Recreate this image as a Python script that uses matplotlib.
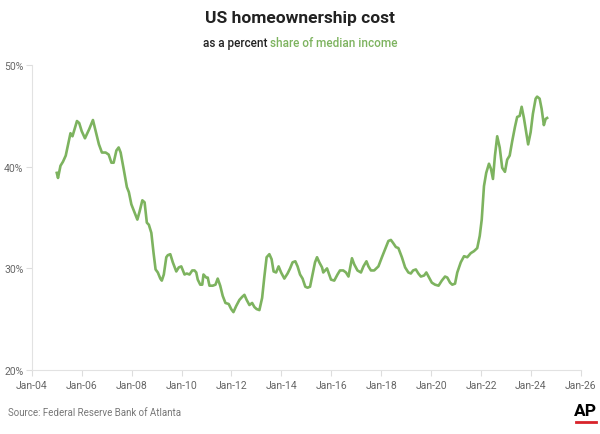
import matplotlib.pyplot as plt
import numpy as np

# decimal year and share of median income, %
years = [
    2005.00, 2005.05, 2005.15, 2005.25, 2005.36, 2005.55, 2005.63, 2005.81, 2005.90,
    2006.00, 2006.13, 2006.30, 2006.45, 2006.59, 2006.69, 2006.81, 2006.96,
    2007.08, 2007.19, 2007.28, 2007.39, 2007.48, 2007.56, 2007.68, 2007.81, 2007.89, 2007.99,
    2008.12, 2008.23, 2008.32, 2008.43, 2008.52, 2008.61, 2008.69, 2008.79, 2008.88, 2008.96,
    2009.05, 2009.15, 2009.21, 2009.29, 2009.39, 2009.45, 2009.55, 2009.65, 2009.79, 2009.89, 2009.99,
    2010.12, 2010.21, 2010.32, 2010.43, 2010.52, 2010.59, 2010.65, 2010.75, 2010.83, 2010.88, 2010.99,
    2011.05, 2011.12, 2011.25, 2011.36, 2011.45, 2011.55, 2011.65, 2011.76, 2011.89, 2011.99,
    2012.08, 2012.19, 2012.32, 2012.43, 2012.52, 2012.61, 2012.72, 2012.83, 2012.92,
    2013.01, 2013.12, 2013.23, 2013.32, 2013.41, 2013.52, 2013.61, 2013.69, 2013.79, 2013.89, 2013.99,
    2014.12, 2014.25, 2014.35, 2014.45, 2014.56, 2014.65, 2014.75, 2014.85, 2014.96,
    2015.05, 2015.15, 2015.25, 2015.35, 2015.43, 2015.52, 2015.63, 2015.68, 2015.83, 2015.99,
    2016.12, 2016.25, 2016.35, 2016.48, 2016.59, 2016.69, 2016.83, 2016.92,
    2017.05, 2017.19, 2017.29, 2017.41, 2017.49, 2017.59, 2017.72, 2017.89,
    2018.03, 2018.16, 2018.29, 2018.39, 2018.48, 2018.59, 2018.69, 2018.83, 2018.96,
    2019.09, 2019.19, 2019.28, 2019.39, 2019.49, 2019.59, 2019.72, 2019.81, 2019.92,
    2020.03, 2020.16, 2020.30, 2020.43, 2020.56, 2020.65, 2020.76, 2020.85, 2020.96,
    2021.05, 2021.19, 2021.32, 2021.45, 2021.59, 2021.72, 2021.85, 2021.95,
    2022.03, 2022.12, 2022.21, 2022.32, 2022.40, 2022.48, 2022.56, 2022.65, 2022.75, 2022.85, 2022.96,
    2023.05, 2023.15, 2023.25, 2023.36, 2023.45, 2023.55, 2023.63, 2023.72, 2023.81, 2023.89, 2023.99,
    2024.08, 2024.19, 2024.25, 2024.35, 2024.43, 2024.52, 2024.59, 2024.65,
]
share = [
    39.4, 38.9, 40.1, 40.5, 41.1, 43.3, 43.0, 44.5, 44.3,
    43.5, 42.8, 43.7, 44.6, 43.2, 42.2, 41.4, 41.4,
    41.2, 40.4, 40.4, 41.6, 41.9, 41.4, 39.8, 38.0, 37.5, 36.3,
    35.5, 34.8, 35.6, 36.7, 36.5, 34.5, 34.3, 33.5, 31.5, 29.9,
    29.6, 29.0, 28.8, 29.4, 31.1, 31.3, 31.4, 30.6, 29.7, 30.1, 30.2,
    29.4, 29.5, 29.4, 29.8, 29.8, 29.6, 28.9, 28.4, 28.4, 29.4, 29.1,
    29.1, 28.3, 28.3, 28.4, 29.0, 28.3, 27.3, 26.6, 26.5, 26.0,
    25.7, 26.3, 26.9, 27.2, 27.4, 26.9, 26.4, 26.6, 26.2,
    26.0, 25.9, 27.1, 29.2, 31.1, 31.4, 30.9, 29.7, 29.6, 30.2, 29.6,
    29.0, 29.5, 30.0, 30.6, 30.7, 30.2, 29.4, 29.0, 28.2,
    28.1, 28.2, 29.4, 30.6, 31.1, 30.6, 30.1, 29.6, 30.0, 28.9,
    28.8, 29.4, 29.8, 29.8, 29.6, 29.2, 31.0, 30.4,
    29.8, 29.6, 30.2, 30.7, 30.2, 29.8, 29.8, 30.2,
    31.1, 31.9, 32.7, 32.8, 32.5, 32.1, 32.0, 31.1, 30.1,
    29.6, 29.5, 29.8, 29.9, 29.5, 29.2, 29.3, 29.6, 29.1,
    28.6, 28.4, 28.3, 28.8, 29.2, 29.1, 28.6, 28.4, 28.5,
    29.6, 30.6, 31.2, 31.1, 31.5, 31.7, 32.0, 33.2,
    34.8, 38.1, 39.4, 40.3, 39.8, 38.8, 41.1, 43.0, 41.9, 39.9, 39.5,
    40.7, 41.1, 42.5, 43.9, 44.9, 45.0, 45.9, 44.8, 43.4, 42.2, 43.4,
    45.2, 46.7, 46.9, 46.7, 45.7, 44.1, 44.7, 44.8,
]

tick_years = list(range(2004, 2027, 2))
tick_labels = [f"Jan-{y % 100:02d}" for y in tick_years]
y_ticks = [20, 30, 40, 50]

green = "#7db35f"
gray = "#666666"
plt.rcParams["font.family"] = ["Roboto", "DejaVu Sans"]

fig = plt.figure(figsize=(6, 4.35), dpi=100)
ax = fig.add_axes([0.053, 0.147, 0.915, 0.701])

ax.plot(years, share, color=green, lw=1.9, solid_joinstyle="round")

ax.set_xlim(2004, 2026)
ax.set_ylim(20, 50)
ax.set_xticks(tick_years)
ax.set_xticklabels(tick_labels)
ax.set_yticks(y_ticks)
ax.set_yticklabels([f"{v}%" for v in y_ticks])

for s in ["top", "right"]:
    ax.spines[s].set_visible(False)
for s in ["left", "bottom"]:
    ax.spines[s].set_color("#e2e2e2")
    ax.spines[s].set_linewidth(0.8)
ax.tick_params(colors="#dddddd", labelcolor=gray, labelsize=7.5, length=4, width=0.8)
ax.tick_params(axis="y", pad=2)

# title and two-colour subtitle
fig.text(0.5, 0.958, "US homeownership cost", ha="center", va="center",
         fontsize=12.5, fontweight="bold", color="#222222")

fig.canvas.draw()
r = fig.canvas.get_renderer()
t1 = fig.text(0, 0.899, "as a percent ", ha="left", va="center", fontsize=8.5,
              color="#222222", fontweight="medium")
t2 = fig.text(0, 0.899, "share of median income", ha="left", va="center",
              fontsize=8.5, color=green, fontweight="medium")
w1 = t1.get_window_extent(r).width / fig.bbox.width
w2 = t2.get_window_extent(r).width / fig.bbox.width
x0 = 0.5 - (w1 + w2) / 2
t1.set_x(x0)
t2.set_x(x0 + w1)

fig.text(0.013, 0.05, "Source: Federal Reserve Bank of Atlanta", ha="left", va="center",
         fontsize=7, color="#777777")

# AP logo
fig.text(0.975, 0.053, "AP", ha="center", va="center", fontsize=12.5,
         fontweight="bold", color="black")
fig.add_artist(plt.Line2D([0.96, 0.993], [0.027, 0.027], color="#d8232a", lw=2))

fig.savefig("out.png", dpi=100)
